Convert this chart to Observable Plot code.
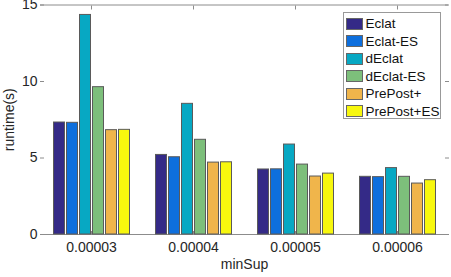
<!DOCTYPE html>
<html>
<head>
<meta charset="utf-8">
<script src="https://cdn.jsdelivr.net/npm/d3@7"></script>
<script src="https://cdn.jsdelivr.net/npm/@observablehq/plot@0.6"></script>
<style>
  html, body { margin: 0; padding: 0; background: #fff; }
  #wrap { position: relative; width: 451px; height: 277px; font-family: "Liberation Sans", Arial, sans-serif; }
  #legend { position: absolute; left: 342.5px; top: 12px; width: 98px; height: 107px; border: 1px solid #999; background: #fff; box-sizing: border-box; padding-top: 2px; }
  .row { display: flex; align-items: center; height: 17.5px; }
  .sw { width: 17px; height: 12px; margin-left: 2px; margin-right: 3px; border: 1px solid #666; box-sizing: border-box; }
  .lab { font-size: 13.5px; color: #111; white-space: nowrap; }
</style>
</head>
<body>
<div id="wrap"></div>
<script>
const groups = ["0.00003", "0.00004", "0.00005", "0.00006"];
const series = ["Eclat", "Eclat-ES", "dEclat", "dEclat-ES", "PrePost+", "PrePost+ES"];
const colors = ["#342a87", "#0e6fdd", "#07a8c3", "#7dbf7b", "#f0b54b", "#f7f70e"];
const eclat      = [7.32, 5.20, 4.25, 3.77];
const eclatES    = [7.30, 5.05, 4.26, 3.75];
const declat     = [14.35, 8.54, 5.88, 4.34];
const declatES   = [9.63, 6.19, 4.57, 3.77];
const prepost    = [6.82, 4.70, 3.79, 3.33];
const prepostES  = [6.84, 4.72, 3.98, 3.55];
const yTicks = [0, 5, 10, 15];

const values = [eclat, eclatES, declat, declatES, prepost, prepostES];
const rows = groups.flatMap((g, i) => series.map((s, j) => ({group: g, series: s, value: values[j][i]})));

const axisColor = "#8c8c8c";
const chart = Plot.plot({
  width: 451,
  height: 277,
  marginLeft: 38.5,
  marginRight: 1.5,
  marginTop: 4.5,
  marginBottom: 43,
  style: {fontFamily: "'Liberation Sans', Arial, sans-serif", fontSize: "14px", color: "#262626", background: "#fff"},
  fx: {domain: groups, padding: 0},
  x: {domain: series, paddingInner: 0.17, paddingOuter: 0.815, axis: null},
  y: {domain: [0, 15]},
  color: {domain: series, range: colors},
  marks: [
    Plot.ruleY([0, 15], {stroke: axisColor}),
    Plot.axisFx({anchor: "bottom", tickSize: -3, tickPadding: 11, stroke: axisColor, label: "minSup", labelArrow: "none", labelAnchor: "center", labelOffset: 34, fontSize: 14}),
    Plot.axisFx({anchor: "top", tickSize: -4, text: null, stroke: axisColor, label: null}),
    Plot.axisY(yTicks, {anchor: "left", tickSize: -4, tickPadding: 7, line: true, stroke: axisColor, label: "runtime(s)", labelArrow: "none", labelAnchor: "center", labelOffset: 36, fontSize: 14}),
    Plot.axisY(yTicks, {anchor: "right", tickSize: -4, text: null, line: true, stroke: axisColor, label: null}),
    Plot.barY(rows, {fx: "group", x: "series", y: "value", fill: "series", stroke: "#5a5a5a", strokeWidth: 1})
  ]
});
const wrap = document.getElementById("wrap");
wrap.appendChild(chart);

const legend = document.createElement("div");
legend.id = "legend";
series.forEach((s, j) => {
  const row = document.createElement("div");
  row.className = "row";
  const sw = document.createElement("div");
  sw.className = "sw";
  sw.style.background = colors[j];
  const lab = document.createElement("span");
  lab.className = "lab";
  lab.textContent = s;
  row.appendChild(sw);
  row.appendChild(lab);
  legend.appendChild(row);
});
wrap.appendChild(legend);
</script>
</body>
</html>
